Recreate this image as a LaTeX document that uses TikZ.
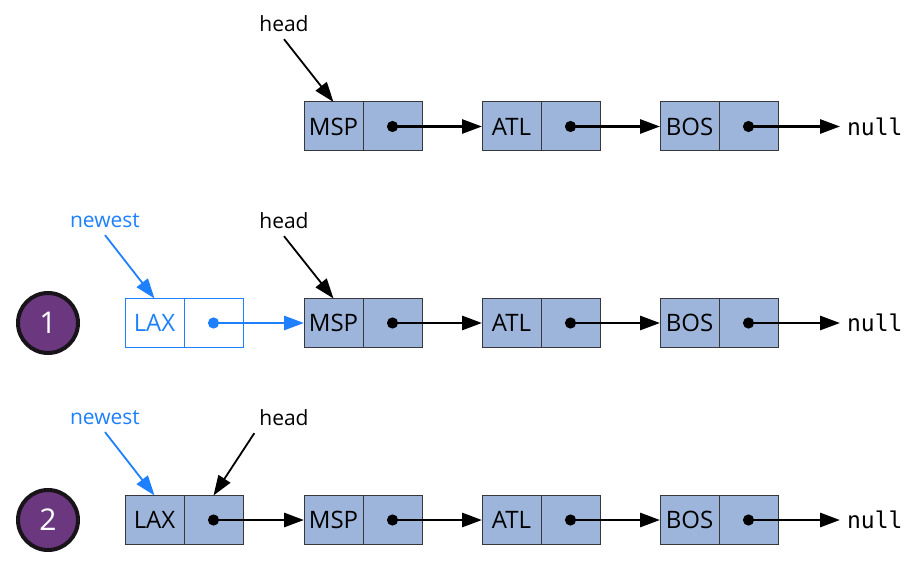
\documentclass[tikz,border=0pt]{standalone}
\usepackage{fontspec}
\setmainfont{Open Sans}
\setmonofont{DejaVu Sans Mono}
\usepackage{tikz}
\usetikzlibrary{arrows.meta, positioning}
\definecolor{cellfill}{RGB}{157,181,218}
\definecolor{celldraw}{RGB}{55,55,60}
\definecolor{newblue}{RGB}{30,128,255}
\definecolor{steppurple}{RGB}{107,56,128}
\definecolor{stepdark}{RGB}{25,20,25}
\tikzset{
  cell/.style={rectangle, draw=celldraw, fill=cellfill,
    minimum width=29.5pt, minimum height=24.5pt, inner sep=0pt,
    outer sep=0pt, line width=0.5pt, font=\fontsize{12}{14}\selectfont},
  newcell/.style={cell, draw=newblue, fill=white, text=newblue},
  ptrlabel/.style={font=\fontsize{10.5}{12}\selectfont},
  newlabel/.style={ptrlabel, text=newblue},
  nulltext/.style={font=\ttfamily\fontsize{11.5}{13}\selectfont},
  stepmark/.style={circle, draw=stepdark, fill=steppurple, line width=2pt,
    minimum size=30pt, text=white, font=\fontsize{15}{18}\selectfont},
  link/.style={-{Triangle[length=10pt,width=7pt]}, line width=1.4pt, color=black},
  newlink/.style={link, color=newblue},
  ptr/.style={-{Triangle[length=10pt,width=7pt]}, line width=0.9pt, color=black},
  newptr/.style={ptr, color=newblue},
  dot/.style={fill=black},
  newdot/.style={fill=newblue}
}

\begin{document}
\begin{tikzpicture}[x=0.5pt, y=-0.5pt]
  \useasboundingbox (0,0) rectangle (916,567);

  % Row 1: the list before the insertion
  \node[cell] (msp1) at (333.5,126.5) {MSP};
  \node[cell, right=0pt of msp1] (msp1n) {};
  \node[cell, right=30pt of msp1n] (atl1) {ATL};
  \node[cell, right=0pt of atl1] (atl1n) {};
  \node[cell, right=30pt of atl1n] (bos1) {BOS};
  \node[cell, right=0pt of bos1] (bos1n) {};
  \node[nulltext, right=31pt of bos1n] (null1) {null};
  \node[ptrlabel] (head1) at (284,24) {head};

  \fill[dot] (msp1n.center) circle (2.8pt);
  \fill[dot] (atl1n.center) circle (2.8pt);
  \fill[dot] (bos1n.center) circle (2.8pt);
  \draw[link] (msp1n.center) -- (atl1);
  \draw[link] (atl1n.center) -- (bos1);
  \draw[link] (bos1n.center) -- (null1);
  \draw[ptr] (head1.south) -- (msp1.north);

  % Row 2: new node linked to the old head
  \node[stepmark] (step1) at (48,323) {1};
  \node[cell] (msp2) at (333.5,323) {MSP};
  \node[cell, right=0pt of msp2] (msp2n) {};
  \node[cell, right=30pt of msp2n] (atl2) {ATL};
  \node[cell, right=0pt of atl2] (atl2n) {};
  \node[cell, right=30pt of atl2n] (bos2) {BOS};
  \node[cell, right=0pt of bos2] (bos2n) {};
  \node[nulltext, right=31pt of bos2n] (null2) {null};
  \node[newcell, left=30.5pt of msp2] (lax2n) {};
  \node[newcell, left=0pt of lax2n] (lax2) {LAX};
  \node[ptrlabel] (head2) at (284,221) {head};
  \node[newlabel] (newest2) at (105,221) {newest};

  \fill[newdot] (lax2n.center) circle (2.8pt);
  \fill[dot] (msp2n.center) circle (2.8pt);
  \fill[dot] (atl2n.center) circle (2.8pt);
  \fill[dot] (bos2n.center) circle (2.8pt);
  \draw[newlink] (lax2n.center) -- (msp2);
  \draw[link] (msp2n.center) -- (atl2);
  \draw[link] (atl2n.center) -- (bos2);
  \draw[link] (bos2n.center) -- (null2);
  \draw[ptr] (head2.south) -- (msp2.north);
  \draw[newptr] (newest2.south) -- (lax2.north);

  % Row 3: head moved to the new node
  \node[stepmark] (step2) at (48,520) {2};
  \node[cell] (lax3) at (154.5,520) {LAX};
  \node[cell, right=0pt of lax3] (lax3n) {};
  \node[cell, right=30.5pt of lax3n] (msp3) {MSP};
  \node[cell, right=0pt of msp3] (msp3n) {};
  \node[cell, right=30pt of msp3n] (atl3) {ATL};
  \node[cell, right=0pt of atl3] (atl3n) {};
  \node[cell, right=30pt of atl3n] (bos3) {BOS};
  \node[cell, right=0pt of bos3] (bos3n) {};
  \node[nulltext, right=31pt of bos3n] (null3) {null};
  \node[ptrlabel] (head3) at (284,418) {head};
  \node[newlabel] (newest3) at (105,418) {newest};

  \fill[dot] (lax3n.center) circle (2.8pt);
  \fill[dot] (msp3n.center) circle (2.8pt);
  \fill[dot] (atl3n.center) circle (2.8pt);
  \fill[dot] (bos3n.center) circle (2.8pt);
  \draw[link] (lax3n.center) -- (msp3);
  \draw[link] (msp3n.center) -- (atl3);
  \draw[link] (atl3n.center) -- (bos3);
  \draw[link] (bos3n.center) -- (null3);
  \draw[ptr] ([xshift=1pt]head3.south west) -- (lax3n.north);
  \draw[newptr] (newest3.south) -- (lax3.north);
\end{tikzpicture}
\end{document}
